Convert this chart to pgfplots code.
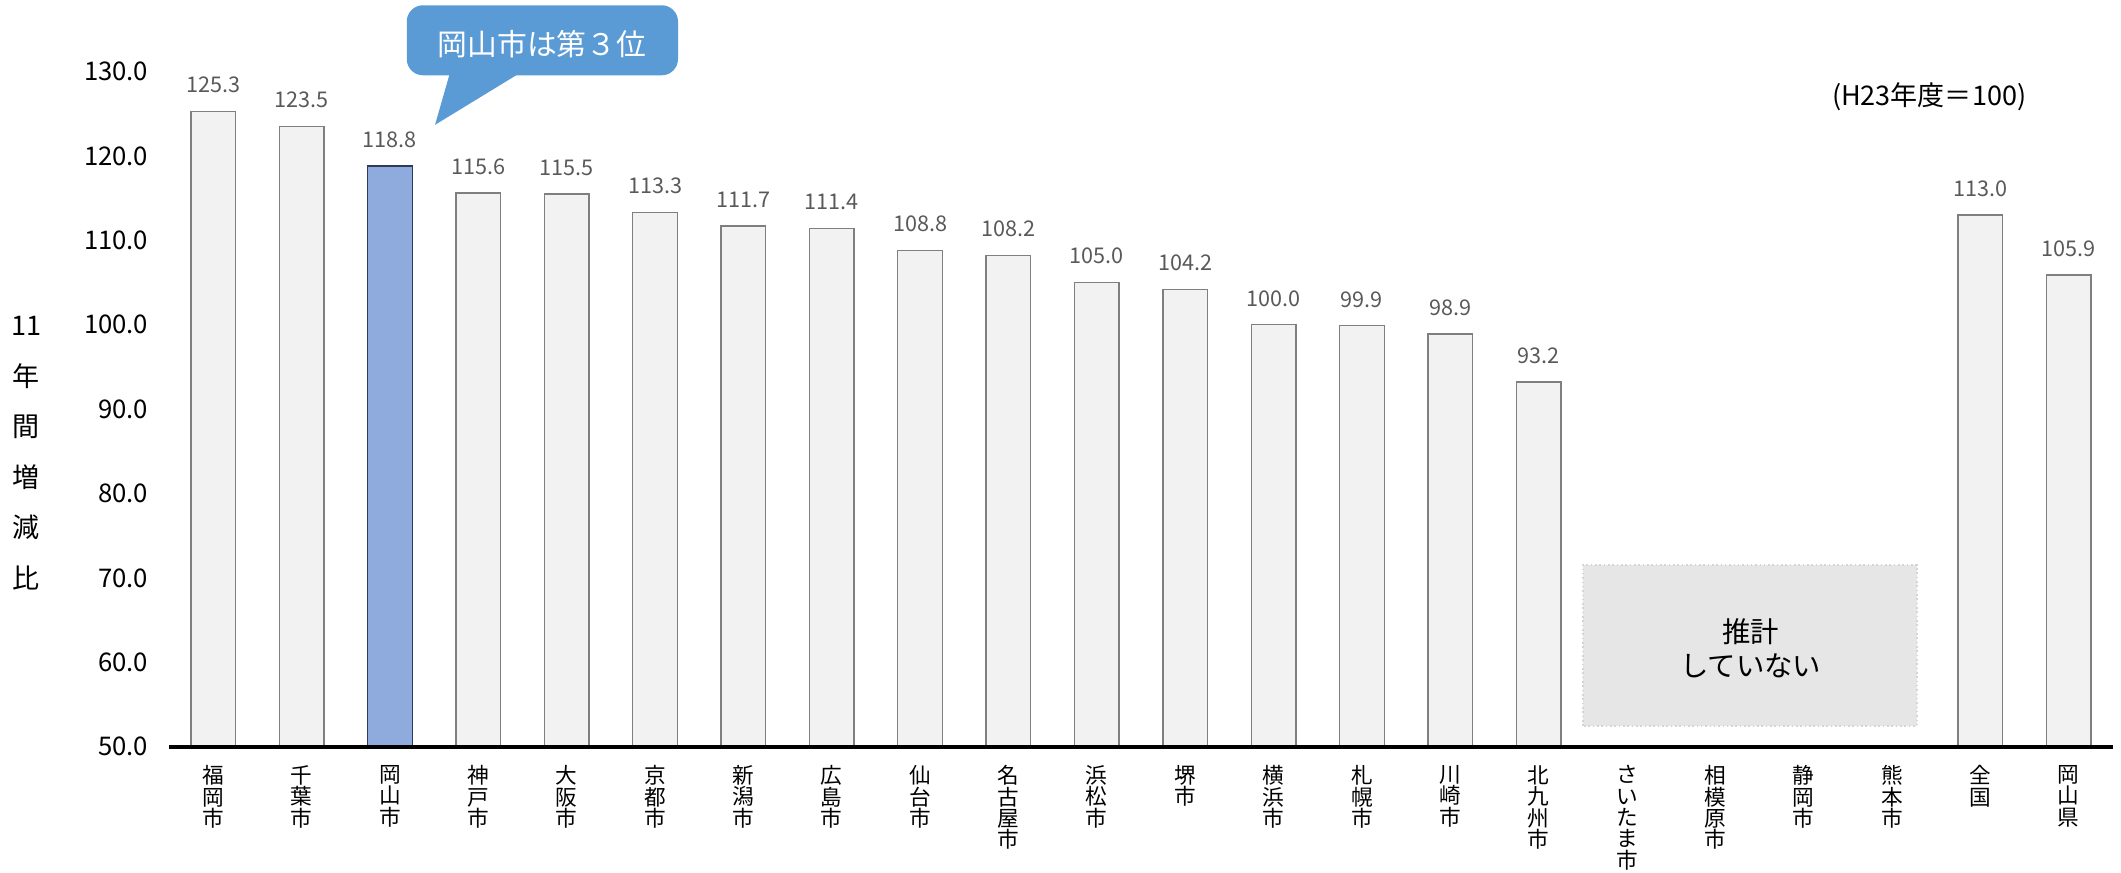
\documentclass[border=0pt]{standalone}
\usepackage{fontspec}
\setmainfont{Noto Sans CJK JP}
\usepackage{pgfplots}
\pgfplotsset{compat=1.18}
\usepackage{pgfplotstable}
\definecolor{barfill}{HTML}{F2F2F2}
\definecolor{baredge}{HTML}{7F7F7F}
\definecolor{okafill}{HTML}{8FAADC}
\definecolor{okaedge}{HTML}{2F3B55}
\definecolor{callout}{HTML}{5B9BD5}
\definecolor{lblgray}{HTML}{595959}
\definecolor{boxfill}{HTML}{E6E6E6}
\definecolor{boxedge}{HTML}{D5D5D5}
\newcommand\xlfont{\fontsize{8pt}{7.9pt}\selectfont\lineskiplimit=-20pt\relax\lineskip=0pt\relax}

\pgfplotstableread{
x y
0 125.3
1 123.5
3 115.6
4 115.5
5 113.3
6 111.7
7 111.4
8 108.8
9 108.2
10 105.0
11 104.2
12 100.0
13 99.9
14 98.9
15 93.2
20 113.0
21 105.9
}\others
\pgfplotstableread{
x y
2 118.8
}\okayama

\begin{document}
\begin{tikzpicture}
\begin{axis}[
  name=ax,
  width=718.5pt, height=249.5pt, scale only axis,
  xmin=-0.5, xmax=21.5, ymin=50, ymax=130,
  clip mode=individual,
  axis on top=true,
  ybar, bar width=16.5pt, bar shift=0pt,
  axis x line*=bottom, axis y line*=left,
  x axis line style={line width=1.5pt, -},
  y axis line style={draw=none},
  tick style={draw=none},
  ytick={50,60,...,130},
  yticklabels={50.0,60.0,70.0,80.0,90.0,100.0,110.0,120.0,130.0},
  yticklabel style={font=\fontsize{9.5pt}{11pt}\selectfont, anchor=east, inner sep=0pt, xshift=-7.5pt},
  xtick={0,1,...,21},
  xticklabels={{福\\岡\\市},{千\\葉\\市},{岡\\山\\市},{神\\戸\\市},{大\\阪\\市},{京\\都\\市},{新\\潟\\市},{広\\島\\市},{仙\\台\\市},{名\\古\\屋\\市},{浜\\松\\市},{堺\\市},{横\\浜\\市},{札\\幌\\市},{川\\崎\\市},{北\\九\\州\\市},{さ\\い\\た\\ま\\市},{相\\模\\原\\市},{静\\岡\\市},{熊\\本\\市},{全\\国},{岡\\山\\県}},
  xticklabel style={font=\xlfont, align=center, anchor=north, inner sep=0pt, yshift=-2.5pt},
  /pgf/number format/assume math mode=true,
  nodes near coords={\pgfmathprintnumber[fixed,fixed zerofill,precision=1]{\pgfplotspointmeta}},
  every node near coord/.append style={font=\fontsize{8pt}{9pt}\selectfont, text=lblgray, yshift=3.2pt},
]
\addplot[fill=barfill, draw=baredge, line width=0.5pt] table[x=x,y=y] {\others};
\addplot[fill=okafill, draw=okaedge, line width=0.5pt] table[x=x,y=y] {\okayama};

% callout
\fill[callout, rounded corners=6pt] (axis cs:2.19,129.57) rectangle (axis cs:5.26,137.87);
\fill[callout] (axis cs:2.68,129.9) -- (axis cs:2.51,123.7) -- (axis cs:3.48,129.9) -- cycle;
\node[text=white, font=\fontsize{11pt}{13pt}\selectfont, inner sep=0pt] at (axis cs:3.72,133.3) {岡山市は第３位};

% base note
\node[font=\fontsize{10pt}{12pt}\selectfont, inner sep=0pt] at (axis cs:19.42,127.0) {(H23年度＝100)};

% not estimated box
\filldraw[fill=boxfill, draw=boxedge, densely dotted, line width=0.6pt] (axis cs:15.5,52.45) rectangle (axis cs:19.28,71.52);
\node[align=center, font=\fontsize{10.5pt}{12.5pt}\selectfont, inner sep=0pt] at (axis cs:17.40,61.7) {推計\\していない};

% y label
\node[align=center, font=\fontsize{10pt}{18.7pt}\selectfont, inner sep=0pt, xshift=-52.75pt] at (axis description cs:0,0.4349) {11\\年\\間\\増\\減\\比};
\end{axis}
\pgfresetboundingbox
\path[use as bounding box] ([shift={(-62.5pt,-46.5pt)}]ax.south west) rectangle ([shift={(3pt,26.5pt)}]ax.north east);
\end{tikzpicture}
\end{document}
